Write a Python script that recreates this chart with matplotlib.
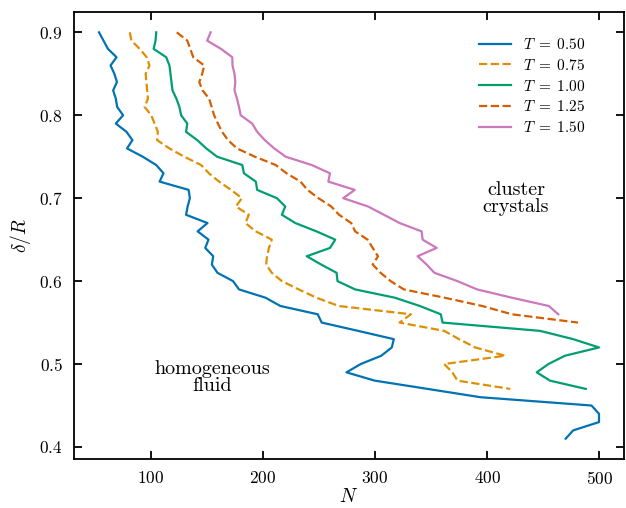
import numpy as np
import matplotlib
matplotlib.use('Agg')
import matplotlib.pyplot as plt

# Computer Modern look
plt.rcParams['font.family'] = 'serif'
plt.rcParams['font.serif'] = ['cmr10']
plt.rcParams['mathtext.fontset'] = 'cm'
plt.rcParams['axes.formatter.use_mathtext'] = True
plt.rcParams['axes.unicode_minus'] = False

# delta/R grid (steps of 0.01)
delta = np.round(np.arange(0.90, 0.405, -0.01), 2)

# N values for each temperature, top (0.90) to bottom
N_050 = [54, 58, 62, 69.6, 64.3, 67.7, 70, 66.6, 69, 70.2,
         75.5, 69, 78.5, 83.8, 79, 93, 105, 111.5, 108, 133.9,
         135, 133, 131.6, 150.7, 141.9, 151.6, 148.7, 155.8, 154.6, 159.6,
         173.5, 178.8, 202.4, 215.7, 249, 252.5, 285, 316.8, 315, 305.6,
         287.3, 274.6, 299.7, 347, 394, 493, 499.7, 499.7, 476.7, 470]
N_075 = [81.4, 82.9, 90.3, 96.5, 99, 95.6, 96.2, 96.9, 97.6, 94.7,
         100.6, 103.5, 106.5, 105.8, 116.8, 130, 145, 152, 161, 171.7,
         181.4, 176, 187.6, 184.5, 193.8, 208, 205.5, 203.8, 203, 208,
         217, 232, 247.8, 267.7, 332, 321.9, 361.7, 375, 389.4, 416,
         361.7, 369, 373.5, 420.6]
N_100 = [105, 104.4, 102.7, 113.9, 116.8, 117.7, 118.6, 119.5, 123, 125.7,
         127.2, 132.7, 131.6, 141.6, 149.6, 159.3, 181.7, 183.2, 193.8, 195,
         212.6, 220, 217, 229, 247.8, 264.6, 259.9, 239.2, 252, 265.8,
         266.6, 282.3, 317.7, 340, 358.7, 360.2, 447.2, 476.7, 499.7, 469.3,
         454.6, 444.2, 456, 487.9]
N_125 = [123.3, 132.7, 135.4, 138, 147.8, 146, 143.4, 146.3, 152.2, 154.4,
         156.6, 160, 163.7, 169, 177, 193, 211.5, 221.2, 233.6, 239.8,
         249.6, 261, 268, 278.8, 282.3, 293.4, 298, 302.7, 298, 305,
         314, 325.7, 362, 395.6, 422, 481]
N_150 = [153.5, 150.4, 162.8, 172.8, 173, 174.8, 175.5, 174.8, 177, 178.8,
         180.3, 190.5, 195, 201.8, 210.2, 220.4, 243.6, 259.9, 258.4, 282,
         271.7, 293.8, 308, 322, 341.6, 342.5, 355, 338, 346, 353,
         373.5, 391, 422, 455, 463.4]

temps = ['0.50', '0.75', '1.00', '1.25', '1.50']
series = [N_050, N_075, N_100, N_125, N_150]
colors = ['#0173B2', '#DE8F05', '#029E73', '#D55E00', '#CC78BC']
styles = ['-', '--', '-', '--', '-']

fig = plt.figure(figsize=(6.26, 5.08), dpi=100)
ax = fig.add_axes([74/626, 1-459/508, 550/626, 447/508])

for t, n, c, ls in zip(temps, series, colors, styles):
    ax.plot(n, delta[:len(n)], color=c, ls=ls, lw=1.6, label=r'$T\;=\;%s$' % t)

ax.text(425.7, 0.70, 'cluster\ncrystals', ha='center', va='center',
        fontsize=14.5, linespacing=0.95)
ax.text(155, 0.4835, 'homogeneous\nfluid', ha='center', va='center',
        fontsize=14.5, linespacing=0.95)

ax.set_xticks([100, 200, 300, 400, 500])
ax.set_yticks([0.4, 0.5, 0.6, 0.7, 0.8, 0.9])
ax.set_xlabel(r'$N$', fontsize=14, labelpad=1)
ax.set_ylabel(r'$\delta/R$', fontsize=14)
ax.tick_params(direction='in', top=True, right=True, length=6, width=1.3,
               labelsize=12.5, pad=8)
for sp in ax.spines.values():
    sp.set_linewidth(1.3)

ax.legend(loc='upper right', frameon=False, fontsize=11, labelspacing=0.38,
          handlelength=2.1, bbox_to_anchor=(0.955, 0.975))

fig.savefig('out.png', dpi=100)
